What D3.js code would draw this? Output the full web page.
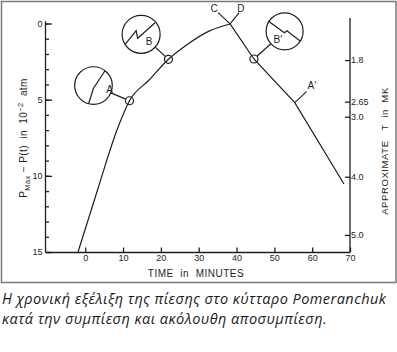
<!DOCTYPE html>
<html>
<head>
<meta charset="utf-8">
<script src="https://cdn.jsdelivr.net/npm/d3@7"></script>
<style>
  body { margin: 0; background: #fff; }
  svg { display: block; }
</style>
</head>
<body>
<div id="chart"></div>
<script>
// time in minutes / P_max - P(t) in 1e-2 atm
const riseTime = [-1.9, 3.25, 8.4, 11.7, 16.9, 22.0, 26.8, 33.0, 38.3];
const risePressure = [15, 10.93, 6.99, 5.07, 3.71, 2.35, 1.41, 0.47, 0.03];
const fallTime = [38.3, 44.6, 55.4, 68.4];
const fallPressure = [0.03, 2.33, 5.2, 10.54];

const timeTicks = [0, 10, 20, 30, 40, 50, 60, 70];
const pressureTicks = [0, 5, 10, 15];
const pressureMinor = [0, 1, 2, 3, 4, 5, 6, 7, 8, 9, 10, 11, 12, 13, 14, 15];

// approximate temperature scale (MK) and where it sits on the pressure axis
const tempLabels = ['1.8', '2.65', '3.0', '4.0', '5.0'];
const tempPressure = [2.4, 5.13, 6.12, 10.06, 13.88];

const W = 397, H = 352;
const font = '"Liberation Sans", Arial, sans-serif';

const svg = d3.select('#chart').append('svg')
  .attr('width', W)
  .attr('height', H);

// frame round the figure
svg.append('rect')
  .attr('x', 1.5).attr('y', 1.5)
  .attr('width', 394.5).attr('height', 281)
  .attr('fill', 'none')
  .attr('stroke', '#7a7a7a')
  .attr('stroke-width', 1.5);

const x = d3.scaleLinear().domain([-10.5, 70]).range([45.5, 350]);
const y = d3.scaleLinear().domain([0, 15]).range([23.5, 252]);

const ink = '#1e1e1e';

// left axis: major + minor ticks pointing inward
const left = svg.append('g')
  .attr('transform', `translate(${x(-10.5)},0)`)
  .call(d3.axisLeft(y).tickValues(pressureTicks).tickSize(-6.5).tickSizeOuter(0).tickPadding(3))
  .call(g => g.selectAll('text').style('font', `9px ${font}`).attr('fill', ink));
svg.append('g')
  .attr('transform', `translate(${x(-10.5)},0)`)
  .call(d3.axisLeft(y).tickValues(pressureMinor).tickSize(-3.5).tickSizeOuter(0).tickFormat(''))
  .call(g => g.select('.domain').remove());
left.select('.domain').attr('d', `M0,${y(-0.15)}V${y(15)}`);

// bottom axis
svg.append('g')
  .attr('transform', `translate(0,${y(15)})`)
  .call(d3.axisBottom(x).tickValues(timeTicks).tickSize(-4.5).tickSizeOuter(0).tickPadding(3))
  .call(g => g.selectAll('text').style('font', `9px ${font}`).attr('fill', ink));

// right axis: temperature
const right = svg.append('g')
  .attr('transform', `translate(${x(70)},0)`)
  .call(d3.axisRight(y).tickValues(tempPressure).tickSize(-5).tickSizeOuter(0).tickPadding(1)
    .tickFormat((d, i) => tempLabels[i]))
  .call(g => g.selectAll('text').style('font', `9px ${font}`).attr('fill', ink));
right.select('.domain').attr('d', `M0,${y(-0.36)}V${y(15)}`);

svg.selectAll('.domain, .tick line')
  .attr('stroke', ink)
  .attr('stroke-width', 1.3);

// the pressure curve
const riseLine = d3.line()
  .x(d => x(d[0])).y(d => y(d[1]))
  .curve(d3.curveMonotoneX);
const fallLine = d3.line()
  .x(d => x(d[0])).y(d => y(d[1]));

svg.append('path')
  .datum(d3.zip(riseTime, risePressure))
  .attr('d', riseLine)
  .attr('fill', 'none').attr('stroke', ink).attr('stroke-width', 1.2);
svg.append('path')
  .datum(d3.zip(fallTime, fallPressure))
  .attr('d', fallLine)
  .attr('fill', 'none').attr('stroke', ink).attr('stroke-width', 1.2);

const label = (px, py, txt) => svg.append('text')
  .attr('x', px).attr('y', py)
  .attr('text-anchor', 'middle')
  .attr('dominant-baseline', 'central')
  .style('font', `10px ${font}`)
  .attr('fill', ink)
  .text(txt);

// inset sketches (circle centre offset from the marked point, sketch in px)
const insets = [
  { name: 'A', t: riseTime[3], p: risePressure[3], dx: -36, dy: -15.2, r: 18.8,
    sketch: [[-4.8, 18], [-0.1, 3], [11.5, -14.8]], lab: [16, 3.5] },
  { name: 'B', t: riseTime[5], p: risePressure[5], dx: -27.3, dy: -25, r: 19,
    sketch: [[-16, 10], [-5, -3.6], [-3.5, 4], [14, -11.6]], lab: [8, 7.2] },
  { name: "B'", t: fallTime[1], p: fallPressure[1], dx: 30.7, dy: -27.7, r: 18.5,
    sketch: [[-16.4, -10.3], [-0.2, 1.4], [2.5, -0.6], [6.3, 2.7], [15.6, 9.7]], lab: [-6.7, 8.2] }
];

insets.forEach(d => {
  const px = x(d.t), py = y(d.p);
  const cx = px + d.dx, cy = py + d.dy;
  const len = Math.hypot(d.dx, d.dy);
  const ux = -d.dx / len, uy = -d.dy / len;
  const g = svg.append('g').attr('fill', 'none').attr('stroke', ink).attr('stroke-width', 1.2);
  g.append('circle').attr('cx', px).attr('cy', py).attr('r', 4);
  g.append('circle').attr('cx', cx).attr('cy', cy).attr('r', d.r);
  g.append('line')
    .attr('x1', cx + ux * d.r).attr('y1', cy + uy * d.r)
    .attr('x2', px - ux * 4).attr('y2', py - uy * 4);
  g.append('path')
    .attr('d', d3.line()(d.sketch.map(s => [cx + s[0], cy + s[1]])));
  label(cx + d.lab[0], cy + d.lab[1], d.name);
});

// C, D at the top, A' at the kink
const peakX = x(fallTime[0]), peakY = y(fallPressure[0]);
const kinkX = x(fallTime[2]), kinkY = y(fallPressure[2]);
const pointer = [
  { name: 'C', x0: peakX, y0: peakY, dx: -12, dy: -11.3, lx: -16, ly: -15.5 },
  { name: 'D', x0: peakX, y0: peakY, dx: 9, dy: -11.3, lx: 10.7, ly: -15.5 },
  { name: "A'", x0: kinkX, y0: kinkY, dx: 11.7, dy: -11, lx: 17, ly: -17.5 }
];
pointer.forEach(d => {
  svg.append('line')
    .attr('x1', d.x0).attr('y1', d.y0)
    .attr('x2', d.x0 + d.dx).attr('y2', d.y0 + d.dy)
    .attr('stroke', ink).attr('stroke-width', 1.1);
  label(d.x0 + d.lx, d.y0 + d.ly, d.name);
});

// axis titles
svg.append('text')
  .attr('x', 196).attr('y', 277)
  .attr('text-anchor', 'middle')
  .style('font', `10px ${font}`)
  .style('letter-spacing', '0.5px')
  .attr('fill', ink)
  .text('TIME\u00a0\u00a0in\u00a0\u00a0MINUTES');

const yTitle = svg.append('text')
  .attr('transform', 'translate(27,138) rotate(-90)')
  .attr('text-anchor', 'middle')
  .style('font', `10px ${font}`)
  .style('letter-spacing', '0.4px')
  .attr('fill', ink);
yTitle.append('tspan').text('P');
yTitle.append('tspan').attr('dy', 3).style('font-size', '7.5px').text('Max');
yTitle.append('tspan').attr('dy', -3).text('\u00a0\u2212\u00a0P(t)\u00a0\u00a0in\u00a0\u00a010');
yTitle.append('tspan').attr('dy', -4.5).style('font-size', '7.5px').text('\u22122');
yTitle.append('tspan').attr('dy', 4.5).text('\u00a0\u00a0atm');

svg.append('text')
  .attr('transform', 'translate(388,151) rotate(-90)')
  .attr('text-anchor', 'middle')
  .style('font', `9.5px ${font}`)
  .style('letter-spacing', '0.6px')
  .attr('fill', ink)
  .text('APPROXIMATE\u00a0\u00a0\u00a0T\u00a0\u00a0in\u00a0\u00a0MK');

// caption
const caption = [
  'Η χρονική εξέλιξη της πίεσης στο κύτταρο Pomeranchuk',
  'κατά την συμπίεση και ακόλουθη αποσυμπίεση.'
];
svg.selectAll('text.caption')
  .data(caption)
  .enter().append('text')
  .attr('class', 'caption')
  .attr('x', 2)
  .attr('y', (d, i) => 304 + i * 20)
  .style('font', 'italic 14.5px "Open Sans", sans-serif')
  .style('letter-spacing', '0.45px')
  .attr('fill', '#1a1a1a')
  .text(d => d);
</script>
</body>
</html>
